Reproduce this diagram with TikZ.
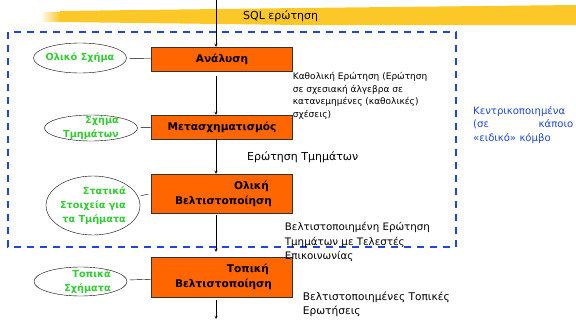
\documentclass[tikz,border=0pt]{standalone}
\usepackage{fontspec}
\setmainfont{DejaVu Sans}
\usepackage{xcolor}
\usetikzlibrary{shapes.geometric, arrows, positioning}
\definecolor{boxorange}{RGB}{255,102,0}
\definecolor{schemagreen}{RGB}{51,204,51}
\definecolor{centralblue}{RGB}{30,70,220}
\definecolor{marker}{RGB}{252,200,40}
% text of an oval takes no room, so the oval keeps its own size
\newcommand{\ovaltext}[1]{\makebox[0pt]{\raisebox{-0.5em}{\smash{\begin{tabular}{@{}r@{}}#1\end{tabular}}}}}
\tikzstyle{process} = [rectangle, minimum width=141pt, minimum height=24pt, text centered, draw=black!80, fill=boxorange, font=\bfseries\fontsize{10.6}{15}\selectfont, inner sep=0pt]
\tikzstyle{schema} = [ellipse, minimum width=93pt, minimum height=30pt, draw=black, fill=none, text=schemagreen, font=\bfseries\fontsize{9.7}{14}\selectfont, inner sep=0pt]
\tikzstyle{note} = [align=left, inner sep=0pt, font=\fontsize{9}{12.5}\selectfont]
\tikzstyle{arrow} = [->,>=stealth]
\tikzstyle{link} = [shorten <=3pt]

\begin{document}
\begin{tikzpicture}[x=1pt, y=1pt, node distance=68pt]
        \useasboundingbox (0,0) rectangle (576,-324);
        % highlighter stroke behind the query
        \fill[marker] (60,-11) -- (300,-8) -- (576,-5) -- (576,-25) -- (300,-25) -- (60,-22) -- cycle;
        \shade[left color=white, right color=marker] (40,-12) rectangle (60,-21);
        % central site
        \draw[centralblue, line width=1.6pt, dash pattern=on 7pt off 6pt] (8,-32) rectangle (456,-247);

        \node (ana) [process] at (222,-59) {Ανάλυση};
        \node (meta) [process, below of=ana] {Μετασχηματισμός};
        \node (oliki) [process, minimum height=39pt, text width=94pt, align=right, below of=meta, yshift=1.5pt] {Ολική\\Βελτιστοποίηση};
        \node (topiki) [process, minimum height=40pt, text width=94pt, align=right, below of=oliki, yshift=-15.5pt] {Τοπική\\Βελτιστοποίηση};

        \node (global) [schema, left of=ana, node distance=142pt, yshift=1pt] {\ovaltext{Ολικό Σχήμα}};
        \node (fragschema) [schema, minimum height=26pt, left of=meta, node distance=131pt, yshift=-1pt] {\ovaltext{Σχήμα\\Τμημάτων}};
        \node (stats) [schema, minimum width=94pt, minimum height=59pt, left of=oliki, node distance=129pt, yshift=-12pt] {\ovaltext{Στατικά\\Στοιχεία για\\τα Τμήματα}};
        \node (localschema) [schema, minimum height=29pt, left of=topiki, node distance=141.5pt, yshift=-4.5pt] {\hspace*{14pt}\ovaltext{Τοπικά\\Σχήματα}};

        \coordinate (sqlin) at (216,0);
        \coordinate (sqlout) at (216,-319);
        \node (sqltxt) [note, font=\fontsize{11}{13}\selectfont, anchor=west] at (243,-16) {SQL ερώτηση};
        \node (globalq) [note, anchor=north west] at ([yshift=-1pt]ana.south east) {Καθολική Ερώτηση (Ερώτηση\\σε σχεσιακή άλγεβρα σε\\κατανεμημένες (καθολικές)\\σχέσεις)};
        \node (fragq) [note, font=\fontsize{11}{13}\selectfont, anchor=west] at ([xshift=25pt, yshift=-18pt]meta.south) {Ερώτηση Τμημάτων};
        \node (optq) [note, font=\fontsize{10.3}{14.5}\selectfont, anchor=north west] at ([xshift=-8pt, yshift=-9pt]oliki.south east) {Βελτιστοποιημένη Ερώτηση\\Τμημάτων με Τελεστές\\Επικοινωνίας};
        \node (localq) [note, font=\fontsize{10.6}{14}\selectfont, anchor=north west] at ([xshift=10pt, yshift=5pt]topiki.south east) {Βελτιστοποιημένες Τοπικές\\Ερωτήσεις};
        \node (central) [note, text=centralblue, text width=100pt, font=\fontsize{10.1}{13.5}\selectfont, anchor=north west] at (473,-106) {Κεντρικοποιημένα\\(σε\hfill κάποιο\\«ειδικό» κόμβο};

        \draw [arrow] (sqlin) -- (sqlin |- ana.north);
        \draw [arrow, shorten <=5pt] ([xshift=-6pt]ana.south) -- ([xshift=-6pt]meta.north);
        \draw [arrow] ([xshift=-6pt]meta.south) -- ([xshift=-6pt]oliki.north);
        \draw [arrow, shorten <=2pt, shorten >=5pt] ([xshift=-6pt]oliki.south) -- ([xshift=-6pt]topiki.north);
        \draw [arrow, shorten <=3pt] ([xshift=-6pt]topiki.south) -- (sqlout);

        \draw [link] (global) -- (ana);
        \draw [link] (fragschema) -- (meta);
        \draw [link, shorten >=3pt] (stats) -- (oliki.west);
        \draw [link] (localschema) -- (topiki);
    \end{tikzpicture}
\end{document}
